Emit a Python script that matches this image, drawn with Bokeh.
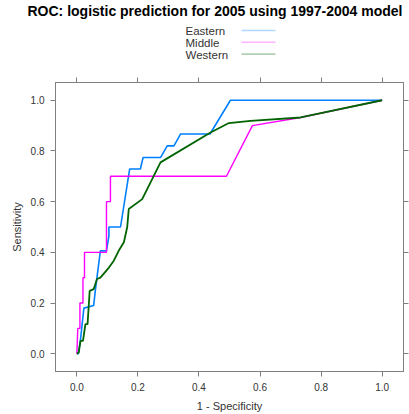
from bokeh.plotting import figure
from bokeh.layouts import column
from bokeh.models import (Range1d, LinearAxis, FixedTicker, Label, PolyAnnotation,
                          CustomLabelingPolicy, Title)
from bokeh.embed import file_html
from bokeh.resources import INLINE

# ---- data ----
eastern_x = [0, 0.005, 0.012, 0.023, 0.055, 0.061, 0.077, 0.097, 0.105, 0.105, 0.143,
             0.173, 0.208, 0.217, 0.274, 0.296, 0.318, 0.34, 0.436, 0.503, 1.0]
eastern_y = [0, 0.0, 0.058, 0.18, 0.19, 0.255, 0.406, 0.406, 0.465, 0.5, 0.5,
             0.729, 0.729, 0.774, 0.774, 0.82, 0.82, 0.867, 0.867, 1.0, 1.0]

middle_x = [0, 0.003, 0.01, 0.01, 0.02, 0.02, 0.025, 0.025, 0.03, 0.097, 0.097,
            0.11, 0.11, 0.12, 0.49, 0.575, 0.733, 1.0]
middle_y = [0, 0.1, 0.1, 0.2, 0.2, 0.3, 0.3, 0.4, 0.4, 0.4, 0.6,
            0.6, 0.7, 0.7, 0.7, 0.9, 0.932, 1.0]

western_x = [0, 0.006, 0.012, 0.02, 0.028, 0.035, 0.042, 0.055, 0.066, 0.077, 0.105,
             0.121, 0.137, 0.154, 0.165, 0.17, 0.214, 0.274, 0.438, 0.498, 0.569, 0.733, 1.0]
western_y = [0, 0.005, 0.051, 0.051, 0.117, 0.117, 0.248, 0.255, 0.295, 0.30, 0.34,
             0.367, 0.406, 0.44, 0.50, 0.571, 0.61, 0.755, 0.873, 0.91, 0.919, 0.932, 1.0]

series_names = ["Eastern", "Middle", "Western"]
tick_values = [0.0, 0.2, 0.4, 0.6, 0.8, 1.0]
tick_labels = {0.0: "0.0", 0.2: "0.2", 0.4: "0.4", 0.6: "0.6", 0.8: "0.8", 1.0: "1.0"}
title_text = "ROC: logistic prediction for 2005 using 1997-2004 model"
x_label = "1 - Specificity"
y_label = "Sensitivity"

# ---- styling ----
FONT = "Liberation Sans"
FRAME = "#808080"
TEXT = "#333333"
colors = ["#0080ff", "#ff00ff", "#006400"]
widths = [1.6, 1.4, 1.8]

W = 409
HEAD_H = 66
MAIN_H = 414 - HEAD_H
LEFT, RIGHT = 55, 6

# ---- header figure (title + key) ----
head = figure(width=W, height=HEAD_H, output_backend="svg", toolbar_location=None,
              x_range=Range1d(0, 1), y_range=Range1d(0, 1),
              x_axis_location=None, y_axis_location=None,
              min_border_left=LEFT, min_border_right=RIGHT,
              min_border_top=0, min_border_bottom=0)
head.xgrid.visible = False
head.ygrid.visible = False
head.outline_line_color = None
head.background_fill_color = "white"
head.border_fill_color = "white"

head.title = Title(text=title_text, align="left", offset=27 - LEFT,
                   text_font=FONT, text_font_size="14px", text_font_style="bold",
                   text_color="black", standoff=2, vertical_align="middle")

# key rows, measured in px up from the bottom of the header's frame
for i, name in enumerate(series_names):
    row_y = HEAD_H - 30.5 - 11.8 * i
    head.add_layout(Label(x=185 - LEFT, y=row_y, x_units="screen", y_units="screen",
                          text=name, text_font=FONT, text_font_size="11.5px",
                          text_color=TEXT, text_baseline="middle", text_align="left"))
    head.add_layout(PolyAnnotation(xs=[241 - LEFT, 275 - LEFT], ys=[row_y + 0.5, row_y + 0.5],
                                   xs_units="screen", ys_units="screen",
                                   line_color=colors[i], line_width=widths[i],
                                   fill_alpha=0))

# ---- main figure ----
p = figure(width=W, height=MAIN_H, output_backend="svg", toolbar_location=None,
           x_range=Range1d(-0.07, 1.07), y_range=Range1d(-0.07, 1.07),
           x_axis_location=None, y_axis_location=None,
           min_border_left=LEFT, min_border_right=RIGHT, min_border_top=82 - HEAD_H,
           min_border_bottom=43)
p.xgrid.visible = False
p.ygrid.visible = False
p.outline_line_color = FRAME
p.outline_line_width = 1
p.background_fill_color = "white"
p.border_fill_color = "white"

ticker = FixedTicker(ticks=tick_values)
hide_labels = CustomLabelingPolicy(code="""
try { for (let i = 0; i < indices.size; i++) { indices.unset(i) } } catch (e) {}
return indices
""")

def style_axis(ax, labels=True):
    ax.ticker = ticker
    ax.axis_line_color = FRAME
    ax.major_tick_line_color = FRAME
    ax.major_tick_out = 5
    ax.major_tick_in = 0
    ax.minor_tick_line_color = None
    if labels:
        ax.major_label_overrides = tick_labels
        ax.major_label_text_font = FONT
        ax.major_label_text_font_size = "10px"
        ax.major_label_text_color = TEXT
        ax.axis_label_text_font = FONT
        ax.axis_label_text_font_size = "11px"
        ax.axis_label_text_font_style = "normal"
        ax.axis_label_text_color = TEXT
    else:
        ax.major_label_policy = hide_labels
        ax.major_label_text_font_size = "0px"
        ax.major_label_standoff = 0

xb = LinearAxis(axis_label=x_label)
style_axis(xb)
xb.major_label_standoff = 6
xb.axis_label_standoff = 6
p.add_layout(xb, "below")

yl = LinearAxis(axis_label=y_label)
style_axis(yl)
yl.major_label_standoff = 6
yl.axis_label_standoff = 5
yl.major_label_orientation = "horizontal"
p.add_layout(yl, "left")

xa = LinearAxis()
style_axis(xa, labels=False)
p.add_layout(xa, "above")
yr = LinearAxis()
style_axis(yr, labels=False)
p.add_layout(yr, "right")

for xs, ys, c, w in [(eastern_x, eastern_y, colors[0], widths[0]),
                     (middle_x, middle_y, colors[1], widths[1]),
                     (western_x, western_y, colors[2], widths[2])]:
    p.line(xs, ys, line_color=c, line_width=w)

layout = column(head, p, spacing=0)
open("out.html", "w").write(file_html(layout, INLINE))
